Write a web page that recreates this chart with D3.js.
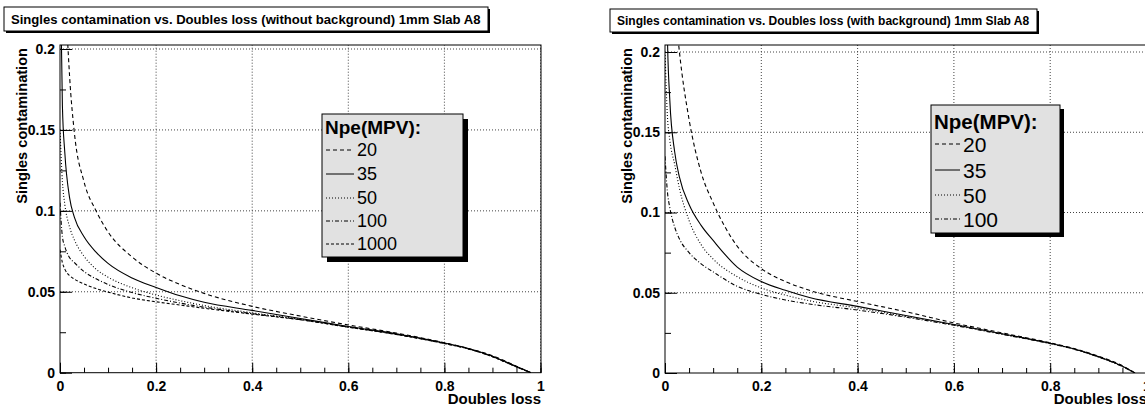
<!DOCTYPE html>
<html>
<head>
  <meta charset="utf-8">
  <style>
    body, html { margin: 0; padding: 0; background: #fff; }
    svg { display: block; font-family: "Liberation Sans", Arial, Helvetica, sans-serif; }
  </style>
</head>
<body>
  <svg id="svg" width="1145" height="408"></svg>
  <script src="https://d3js.org/d3.v7.min.js"></script>
  <script>
    // ---- data ----
    const lossLeft = [0, 0.005, 0.01, 0.02, 0.03, 0.05, 0.075, 0.1, 0.15, 0.2, 0.25, 0.3, 0.4, 0.5, 0.6, 0.7, 0.8, 0.85, 0.9, 0.95, 0.98]
    const contLeft20 = [0.35, 0.29, 0.245, 0.183, 0.148, 0.118, 0.1, 0.087, 0.0715, 0.0615, 0.0545, 0.049, 0.041, 0.035, 0.0295, 0.0245, 0.0185, 0.015, 0.0105, 0.004, 0]
    const contLeft35 = [0.26, 0.165, 0.136, 0.108, 0.096, 0.084, 0.0745, 0.0675, 0.0585, 0.0527, 0.0475, 0.0435, 0.0385, 0.0335, 0.0285, 0.024, 0.0183, 0.015, 0.0102, 0.0038, 0]
    const contLeft50 = [0.15, 0.118, 0.104, 0.09, 0.082, 0.072, 0.064, 0.059, 0.0525, 0.048, 0.0445, 0.0415, 0.037, 0.033, 0.0283, 0.0238, 0.0182, 0.0148, 0.01, 0.0037, 0]
    const contLeft100 = [0.105, 0.084, 0.078, 0.071, 0.068, 0.0625, 0.058, 0.0545, 0.0495, 0.046, 0.043, 0.0405, 0.0365, 0.0328, 0.0282, 0.0237, 0.0181, 0.0147, 0.0099, 0.0036, 0]
    const contLeft1000 = [0.076, 0.068, 0.064, 0.06, 0.0578, 0.0548, 0.052, 0.0498, 0.0462, 0.0438, 0.0418, 0.0398, 0.0362, 0.0327, 0.0281, 0.0236, 0.018, 0.0147, 0.0099, 0.0036, 0]

    const lossRight = [0, 0.005, 0.01, 0.02, 0.03, 0.05, 0.075, 0.1, 0.15, 0.2, 0.25, 0.3, 0.4, 0.5, 0.6, 0.7, 0.8, 0.85, 0.9, 0.95, 0.976]
    const contRight20 = [0.4, 0.34, 0.29, 0.232, 0.2, 0.158, 0.125, 0.106, 0.079, 0.065, 0.057, 0.0515, 0.0445, 0.0382, 0.0312, 0.025, 0.0188, 0.0152, 0.0105, 0.0045, 0]
    const contRight35 = [0.4, 0.21, 0.17, 0.138, 0.122, 0.105, 0.092, 0.0826, 0.066, 0.057, 0.0515, 0.047, 0.0415, 0.0358, 0.0302, 0.0245, 0.0185, 0.015, 0.0102, 0.0042, 0]
    const contRight50 = [0.2, 0.16, 0.145, 0.13, 0.115, 0.095, 0.08, 0.071, 0.06, 0.053, 0.0485, 0.045, 0.0405, 0.0352, 0.03, 0.0243, 0.0184, 0.0149, 0.0101, 0.0041, 0]
    const contRight100 = [0.135, 0.113, 0.103, 0.091, 0.0835, 0.075, 0.068, 0.063, 0.054, 0.049, 0.0455, 0.043, 0.0392, 0.0348, 0.0297, 0.0241, 0.0183, 0.0148, 0.01, 0.004, 0]

    const npeLeft = ["20", "35", "50", "100", "1000"]
    const npeRight = ["20", "35", "50", "100"]
    const xTicks = [0, 0.2, 0.4, 0.6, 0.8, 1]
    const yTicks = [0, 0.05, 0.1, 0.15, 0.2]

    const dashes = { "20": "4,3", "35": null, "50": "1,2", "100": "4,2,1,2", "1000": "3,2" }

    const svg = d3.select("#svg")
    const font = '"Liberation Sans", Arial, Helvetica, sans-serif'

    function drawPanel(p) {
      const x = d3.scaleLinear().domain([0, 1]).range(p.xRange)
      const y = d3.scaleLinear().domain([0, 0.2]).range(p.yRange)
      const g = svg.append("g")
      const left = p.xRange[0], bottom = p.yRange[0]
      const right = p.frameRight, top = p.frameTop

      // title box
      const tg = g.append("g")
      const tt = tg.append("text")
        .attr("x", p.title.x + 7).attr("y", p.title.y + p.title.h / 2)
        .attr("dy", "0.36em")
        .attr("font-weight", "bold").attr("font-size", 12)
        .text(p.title.text)
      const len = tt.node().getComputedTextLength()
      tt.attr("font-size", 12 * p.title.textWidth / len)
      const bw = p.title.textWidth + 14
      tg.insert("rect", "text").attr("x", p.title.x + 2).attr("y", p.title.y + 2)
        .attr("width", bw).attr("height", p.title.h).attr("fill", "#000")
      tg.insert("rect", "text").attr("x", p.title.x).attr("y", p.title.y)
        .attr("width", bw).attr("height", p.title.h)
        .attr("fill", "#fff").attr("stroke", "#000")

      // grid
      const grid = g.append("g").attr("stroke", "#444").attr("stroke-dasharray", "1,2")
      grid.selectAll(".gx").data([0.2, 0.4, 0.6, 0.8, 1]).enter().append("line")
        .attr("x1", d => x(d)).attr("x2", d => x(d))
        .attr("y1", bottom).attr("y2", top)
      grid.selectAll(".gy").data([0.05, 0.1, 0.15, 0.2]).enter().append("line")
        .attr("x1", left).attr("x2", right)
        .attr("y1", d => y(d)).attr("y2", d => y(d))

      // curves
      const clipId = "clip" + p.id
      g.append("clipPath").attr("id", clipId).append("rect")
        .attr("x", left).attr("y", top).attr("width", right - left).attr("height", bottom - top)
      const line = d3.line()
        .x(d => x(d[0]))
        .y(d => y(d[1]))
        .curve(d3.curveMonotoneX)
      const cg = g.append("g").attr("clip-path", `url(#${clipId})`)
      p.series.forEach(s => {
        cg.append("path")
          .attr("d", line(p.loss.map((v, i) => [v, s.values[i]])))
          .attr("fill", "none").attr("stroke", "#000").attr("stroke-width", 1.1)
          .attr("stroke-dasharray", dashes[s.name])
      })

      // frame
      g.append("rect").attr("x", left).attr("y", top)
        .attr("width", right - left).attr("height", bottom - top)
        .attr("fill", "none").attr("stroke", "#000")

      // axes
      const xMajor = d3.axisBottom(x).tickValues(xTicks).tickSize(-10).tickPadding(8)
        .tickFormat(d3.format("~g"))
      const xMinor = d3.axisBottom(x).tickValues(d3.range(0, 1.0001, 0.05)).tickSize(-5).tickFormat("")
      const yMajor = d3.axisLeft(y).tickValues(yTicks).tickSize(-12).tickPadding(5)
        .tickFormat(d3.format("~g"))
      const yMinor = d3.axisLeft(y).tickValues(d3.range(0, 0.2001, 0.025)).tickSize(-6).tickFormat("")

      ;[[xMinor, `translate(0,${bottom})`], [xMajor, `translate(0,${bottom})`],
        [yMinor, `translate(${left},0)`], [yMajor, `translate(${left},0)`]].forEach(([ax, tr]) => {
        const a = g.append("g").attr("transform", tr).call(ax)
        a.select(".domain").remove()
        a.selectAll("text").attr("font-family", font).attr("font-size", 14)
          .attr("font-weight", "bold").attr("fill", "#000")
        a.selectAll("line").attr("stroke", "#000")
      })

      // axis titles
      g.append("text").attr("x", p.xTitleEnd).attr("y", 404)
        .attr("text-anchor", "end").attr("font-weight", "bold").attr("font-size", 15)
        .text("Doubles loss")
      g.append("text")
        .attr("transform", `translate(${p.yTitleX},48) rotate(-90)`)
        .attr("text-anchor", "end").attr("font-weight", "bold").attr("font-size", 14.6)
        .text("Singles contamination")

      // legend
      const L = p.legend
      g.append("rect").attr("x", L.x + L.shadow).attr("y", L.y + L.shadow)
        .attr("width", L.w).attr("height", L.h).attr("fill", "#000")
      g.append("rect").attr("x", L.x).attr("y", L.y)
        .attr("width", L.w).attr("height", L.h).attr("fill", "#e1e1e1").attr("stroke", "#000")
      g.append("text").attr("x", L.x + 3).attr("y", L.titleY)
        .attr("dy", "0.36em").attr("font-weight", "bold").attr("font-size", L.titleSize)
        .text("Npe(MPV):")
      const ent = g.selectAll(".ent" + p.id).data(p.series).enter().append("g")
        .attr("transform", (d, i) => `translate(0,${L.rowY[i]})`)
      ent.append("line").attr("x1", L.x + 4).attr("x2", L.x + 4 + L.sample)
        .attr("stroke", "#000").attr("stroke-dasharray", d => dashes[d.name])
      ent.append("text").attr("x", L.x + 7 + L.sample).attr("dy", "0.36em")
        .attr("font-size", L.textSize).text(d => d.name)
    }

    drawPanel({
      id: "L",
      xRange: [60, 540.5], yRange: [372.7, 49], frameRight: 541, frameTop: 45,
      title: { x: 4, y: 7, h: 24, textWidth: 470,
        text: "Singles contamination vs. Doubles loss (without background) 1mm Slab A8" },
      loss: lossLeft,
      series: [contLeft20, contLeft35, contLeft50, contLeft100, contLeft1000]
        .map((v, i) => ({ name: npeLeft[i], values: v })),
      xTitleEnd: 541, yTitleX: 27,
      legend: { x: 322, y: 114, w: 141, h: 143, shadow: 5, titleY: 127, titleSize: 19,
        rowY: [150, 174, 198, 221, 244], sample: 28, textSize: 18 }
    })

    drawPanel({
      id: "R",
      xRange: [665, 1146.5], yRange: [373, 52], frameRight: 1147, frameTop: 45,
      title: { x: 610, y: 9, h: 23, textWidth: 413,
        text: "Singles contamination vs. Doubles loss (with background) 1mm Slab A8" },
      loss: lossRight,
      series: [contRight20, contRight35, contRight50, contRight100]
        .map((v, i) => ({ name: npeRight[i], values: v })),
      xTitleEnd: 1147, yTitleX: 632,
      legend: { x: 931, y: 105, w: 129, h: 128, shadow: 4, titleY: 122, titleSize: 20.5,
        rowY: [144, 170, 195, 219], sample: 25, textSize: 21 }
    })
  </script>
</body>
</html>
